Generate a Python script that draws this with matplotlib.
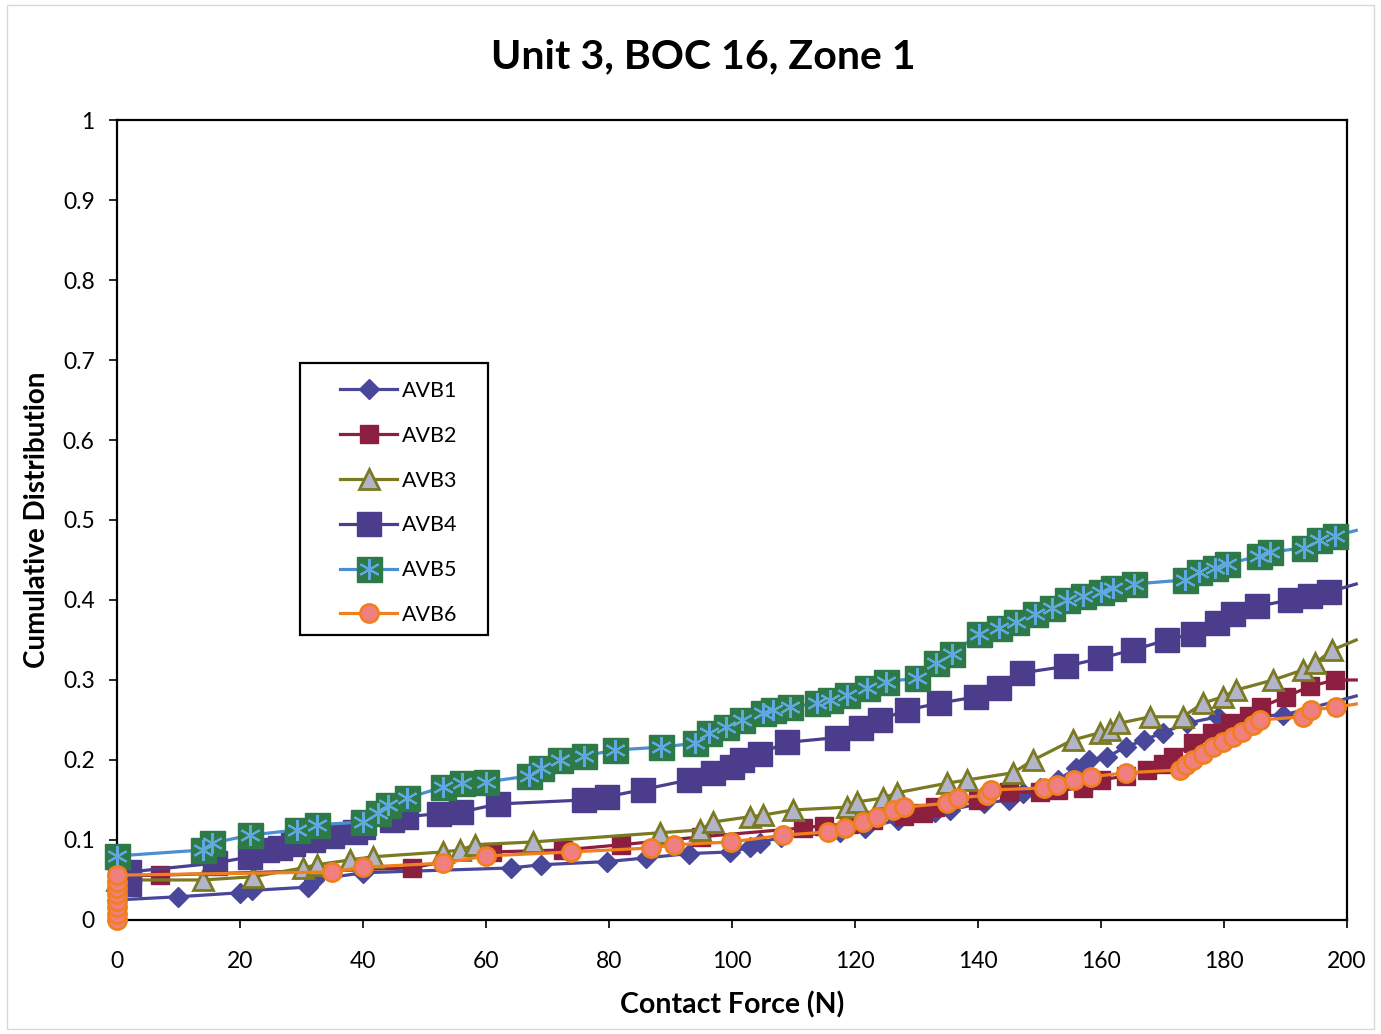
import matplotlib
matplotlib.use("Agg")
import matplotlib.pyplot as plt
from matplotlib.legend_handler import HandlerTuple
from matplotlib.patches import Rectangle

plt.rcParams['font.family'] = ['Lato', 'DejaVu Sans']

title = "Unit 3, BOC 16, Zone 1"
xlabel = "Contact Force (N)"
ylabel = "Cumulative Distribution"
series_names = ["AVB1", "AVB2", "AVB3", "AVB4", "AVB5", "AVB6"]

avb1_x = [0, 10, 20, 22, 31, 32, 40, 64, 69, 79.7, 86, 93, 99.7, 103, 104.5, 108, 117.6, 121.6, 127, 133,
          135.4, 141, 145, 147.3, 150, 153, 156, 158, 161, 164, 167, 170, 174, 179, 189.6, 201.5]
avb1_y = [0.025, 0.029, 0.034, 0.037, 0.041, 0.05, 0.059, 0.065, 0.069, 0.073, 0.0775, 0.083, 0.085, 0.091, 0.096,
          0.104, 0.11, 0.115, 0.125, 0.135, 0.138, 0.146, 0.15, 0.159, 0.165, 0.175, 0.19, 0.2, 0.204, 0.216,
          0.225, 0.234, 0.246, 0.254, 0.256, 0.28]

avb2_x = [0, 7, 48, 61, 72.5, 82, 95, 111.5, 115, 119, 123, 128, 131, 133, 140, 145, 150, 153, 157, 160,
          164, 167.5, 170, 171.7, 175, 178, 181, 184, 186, 190, 194, 198, 201.5]
avb2_y = [0.055, 0.056, 0.065, 0.085, 0.0875, 0.094, 0.104, 0.115, 0.118, 0.12, 0.125, 0.13, 0.134, 0.141, 0.15,
          0.16, 0.16, 0.162, 0.165, 0.175, 0.18, 0.1875, 0.195, 0.204, 0.221, 0.234, 0.246, 0.255, 0.266, 0.279,
          0.292, 0.3, 0.3]

avb3_x = [0, 14, 22.1, 30.2, 32.5, 37.9, 41.6, 53, 55.8, 58.2, 67.6, 88.3, 94.8, 96.9, 102.9, 105, 109.9, 118.7,
          120.3, 124.6, 126.8, 135, 138.2, 145.7, 149, 155.4, 159.8, 161.5, 163, 168, 173.3, 176.6, 179.8, 182,
          188, 192.8, 194.8, 197.6, 201.5]
avb3_y = [0.05, 0.05, 0.054, 0.065, 0.069, 0.075, 0.079, 0.085, 0.0875, 0.094, 0.0975, 0.109, 0.1125, 0.1225,
          0.129, 0.131, 0.1375, 0.141, 0.1475, 0.1525, 0.159, 0.171, 0.175, 0.184, 0.2, 0.225, 0.234, 0.2375,
          0.246, 0.254, 0.254, 0.271, 0.279, 0.2875, 0.3, 0.3125, 0.321, 0.3375, 0.35]

avb4_x = [2, 2, 16, 21.6, 24.4, 26.5, 28.6, 31.8, 35, 38.7, 40, 44.7, 47, 52.4, 56, 62, 76, 79.7, 85.5, 93,
          96.9, 100, 101.6, 104.5, 109, 117, 121, 124, 128.4, 133.7, 139.7, 143.4, 147.2, 154.3, 159.8, 165.2,
          170.7, 174.9, 178.9, 181.5, 185.4, 190.7, 194, 197, 201.5]
avb4_y = [0.045, 0.06, 0.071, 0.079, 0.0875, 0.09, 0.095, 0.1, 0.105, 0.11, 0.116, 0.125, 0.129, 0.133, 0.135,
          0.145, 0.15, 0.154, 0.163, 0.175, 0.184, 0.191, 0.2, 0.208, 0.222, 0.228, 0.24, 0.25, 0.2625, 0.271,
          0.279, 0.29, 0.309, 0.317, 0.327, 0.3375, 0.35, 0.358, 0.371, 0.383, 0.392, 0.4, 0.405, 0.41, 0.42]

avb5_x = [0, 14, 15.5, 21.6, 29.2, 32.5, 40, 42.4, 44, 47.2, 53, 56.1, 60, 67, 69, 72, 76, 81, 88.5, 94,
          96.2, 99, 101.7, 105, 106.7, 109.4, 113.8, 116, 118.7, 122, 125, 130, 133.2, 135.8, 140.2, 143.4,
          146.2, 149.3, 152, 154.5, 157, 160, 162, 165.4, 173.6, 176, 178.5, 180.5, 185.7, 187.5, 193, 195.5,
          198, 201.5]
avb5_y = [0.08, 0.0875, 0.096, 0.106, 0.1125, 0.119, 0.1225, 0.134, 0.144, 0.1525, 0.166, 0.171, 0.1725, 0.18,
          0.19, 0.2, 0.205, 0.2125, 0.216, 0.221, 0.234, 0.241, 0.25, 0.259, 0.2625, 0.266, 0.271, 0.275, 0.281,
          0.29, 0.298, 0.302, 0.321, 0.333, 0.358, 0.365, 0.373, 0.383, 0.39, 0.4, 0.405, 0.41, 0.415, 0.42,
          0.425, 0.435, 0.44, 0.445, 0.455, 0.46, 0.465, 0.475, 0.48, 0.487]

avb6_x = [0, 0, 0, 0, 0, 0, 0, 0, 35, 40, 53, 60, 73.8, 86.8, 90.6, 99.8, 108.3, 115.6, 118.4, 121.3, 123.5,
          126.2, 128, 135, 136.7, 141.5, 142.1, 150.7, 152.8, 155.6, 158.3, 164.1, 172.8, 173.8, 175, 176.6,
          178.2, 179.8, 181.5, 183, 184.7, 185.9, 192.8, 194.1, 198.2, 201.5]
avb6_y = [0, 0.008, 0.016, 0.024, 0.032, 0.04, 0.048, 0.056, 0.06, 0.066, 0.071, 0.08, 0.085, 0.09, 0.094,
          0.0975, 0.106, 0.11, 0.115, 0.1225, 0.129, 0.1375, 0.141, 0.146, 0.1525, 0.156, 0.1625, 0.165, 0.169,
          0.175, 0.179, 0.184, 0.1875, 0.194, 0.2, 0.208, 0.216, 0.2225, 0.229, 0.235, 0.244, 0.25, 0.254,
          0.2625, 0.266, 0.27]

x_ticks = [0, 20, 40, 60, 80, 100, 120, 140, 160, 180, 200]
y_ticks = [0, 0.1, 0.2, 0.3, 0.4, 0.5, 0.6, 0.7, 0.8, 0.9, 1]
y_ticklabels = ["0", "0.1", "0.2", "0.3", "0.4", "0.5", "0.6", "0.7", "0.8", "0.9", "1"]

fig = plt.figure(figsize=(13.81, 10.34), dpi=100)
fig.patches.append(Rectangle((0.005, 0.005), 0.99, 0.99, transform=fig.transFigure,
                             fill=False, edgecolor='#d8d8d8', linewidth=1))
ax = fig.add_axes([0.0847, 0.1103, 0.8907, 0.7736])

lw = 2.3
me = slice(0, -1)
common = dict(linewidth=lw, clip_on=False, markevery=me)

l1, = ax.plot(avb1_x, avb1_y, color='#48479a', marker='D', markersize=10.5,
              markerfacecolor='#48479a', markeredgecolor='#48479a', zorder=3, **common)
l2, = ax.plot(avb2_x, avb2_y, color='#8c1f3f', marker='s', markersize=12.5,
              markerfacecolor='#8c1f3f', markeredgecolor='#8c1f3f', zorder=4, **common)
l3, = ax.plot(avb3_x, avb3_y, color='#7a7a22', marker='^', markersize=15,
              markerfacecolor='#b4b4c8', markeredgecolor='#7a7a22', markeredgewidth=2, zorder=5, **common)
l4, = ax.plot(avb4_x, avb4_y, color='#4a3f8f', marker='s', markersize=17.5,
              markerfacecolor='#4b3c8c', markeredgecolor='#4b3c8c', zorder=6, **common)
l5, = ax.plot(avb5_x, avb5_y, color='#4a90d0', marker='s', markersize=18,
              markerfacecolor='#2d7a48', markeredgecolor='#2d7a48', zorder=7, **common)
l5b, = ax.plot(avb5_x[:-1], avb5_y[:-1], linestyle='none', marker=(6, 2, 0), markersize=15,
               markeredgecolor='#5fa8e0', markeredgewidth=1.5, zorder=7.5, clip_on=False)
l6, = ax.plot(avb6_x, avb6_y, color='#f07f20', marker='o', markersize=13,
              markerfacecolor='#f08080', markeredgecolor='#f07f20', markeredgewidth=2, zorder=8, **common)

ax.set_xlim(0, 200)
ax.set_ylim(0, 1)
ax.set_xticks(x_ticks)
ax.set_xticklabels([str(t) for t in x_ticks])
ax.set_yticks(y_ticks)
ax.set_yticklabels(y_ticklabels)
ax.tick_params(axis='both', direction='out', length=6, width=1.2, labelsize=16.5)
ax.tick_params(axis='x', pad=16)
ax.tick_params(axis='y', pad=10)
for s in ax.spines.values():
    s.set_linewidth(1.6)
    s.set_color('black')

fig.text(703 / 1381, 1 - 57 / 1034, title, fontsize=29.5, fontweight='bold', ha='center', va='center')
ax.set_xlabel(xlabel, fontsize=20.5, fontweight='bold', labelpad=14)
ax.set_ylabel(ylabel, fontsize=20, fontweight='bold', labelpad=9)

# legend box (frame drawn separately to match reference proportions)
box_left, box_top = (300 - 117) / 1230, (920 - 363) / 800
box_w, box_h = (488 - 300) / 1230, (635 - 363) / 800
ax.add_patch(Rectangle((box_left, box_top - box_h), box_w, box_h, transform=ax.transAxes,
                       facecolor='white', edgecolor='black', linewidth=1.6, zorder=20, clip_on=False))

handles = [l1, l2, l3, l4, (l5, l5b), l6]
leg = ax.legend(handles, series_names, loc='upper left',
                bbox_to_anchor=((340 - 117) / 1230, (920 - 381) / 800),
                borderaxespad=0, borderpad=0, fontsize=15.5, frameon=False,
                handlelength=2.65, labelspacing=1.15, handletextpad=0.25,
                handler_map={tuple: HandlerTuple(ndivide=1)})
leg.set_zorder(21)

fig.savefig("out.png", dpi=100)
